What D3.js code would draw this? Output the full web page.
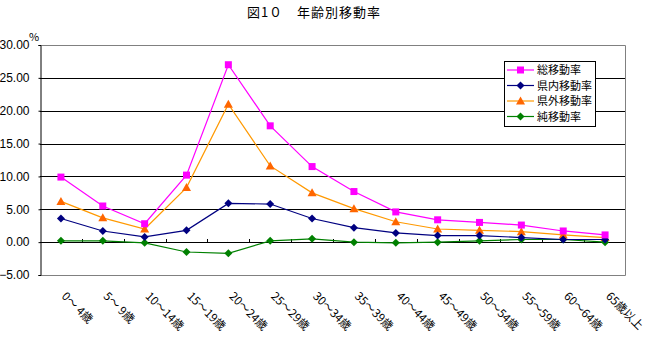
<!DOCTYPE html>
<html><head><meta charset="utf-8">
<script src="https://cdn.jsdelivr.net/npm/d3@7"></script>
<style>
body{margin:0;background:#fff;}
svg{display:block;}
text{font-family:"Noto Sans CJK JP","DejaVu Sans",sans-serif;fill:#000;}
</style></head>
<body>
<script>
const categories = ["0～ 4歳","5～ 9歳","10～14歳","15～19歳","20～24歳","25～29歳","30～34歳","35～39歳","40～44歳","45～49歳","50～54歳","55～59歳","60～64歳","65歳以上"];
const totalRate  = [9.9,5.5,2.8,10.2,27.0,17.7,11.5,7.7,4.6,3.4,3.0,2.6,1.7,1.1];
const intraRate  = [3.6,1.7,0.8,1.8,5.9,5.8,3.6,2.2,1.4,1.0,1.0,0.7,0.4,0.4];
const outerRate  = [6.2,3.7,2.0,8.3,21.0,11.6,7.5,5.1,3.1,2.0,1.8,1.6,1.1,0.7];
const netRate    = [0.2,0.2,-0.1,-1.5,-1.7,0.2,0.5,0.0,-0.1,0.0,0.2,0.4,0.4,0.0];
const yTicks     = [-5,0,5,10,15,20,25,30];
const seriesNames = ["総移動率","県内移動率","県外移動率","純移動率"];
const title = "図1０　年齢別移動率";

const W=649,H=344;
const m={l:40,r:23,t:45,b:69};
const svg=d3.select("body").append("svg").attr("width",W).attr("height",H);
const x=d3.scaleBand().domain(categories).range([m.l,W-m.r]);
const y=d3.scaleLinear().domain([-5,30]).range([H-m.b,m.t]);
const cx=d=>x(d)+x.bandwidth()/2;

// title
svg.append("text").attr("x",314).attr("y",17).attr("text-anchor","middle")
  .style("font-size","13px").style("letter-spacing","1px").text(title);

// gridlines
svg.append("g").selectAll("line").data(yTicks.filter(v=>v>-5&&v<30)).join("line")
  .attr("x1",m.l).attr("x2",W-m.r).attr("y1",d=>Math.round(y(d))+0.5).attr("y2",d=>Math.round(y(d))+0.5)
  .attr("stroke","#000").attr("stroke-width",1);
// plot border gray
svg.append("path").attr("d",`M${m.l},${y(30)+0.5}H${W-m.r-0.5}V${Math.round(y(-5))+0.5}H${m.l}`)
  .attr("fill","none").attr("stroke","#808080").attr("stroke-width",1);

// y axis
const ya=svg.append("g").attr("transform",`translate(${m.l+0.5},0)`)
  .call(d3.axisLeft(y).tickValues(yTicks).tickFormat(d3.format(".2f")).tickSize(2).tickPadding(9));
ya.select(".domain").attr("stroke","#000");
ya.selectAll("text").style("font-family","'Liberation Sans',sans-serif").style("font-size","12px");
svg.append("text").attr("x",29).attr("y",41).style("font-size","11px").text("%");

// category ticks on zero line
const bounds=categories.map(c=>x(c)).concat([W-m.r]).slice(1,-1);
svg.append("g").selectAll("line").data(bounds).join("line")
  .attr("x1",d=>Math.round(d)+0.5).attr("x2",d=>Math.round(d)+0.5)
  .attr("y1",Math.round(y(0))-3).attr("y2",Math.round(y(0)))
  .attr("stroke","#000");

// x labels
svg.append("g").selectAll("text").data(categories).join("text")
  .attr("transform",d=>`translate(${cx(d)+7},${290}) rotate(45)`)
  .attr("dy","0.85em").style("font-size","11.5px").text(d=>d);

// series
const series=[
  {name:seriesNames[0],vals:totalRate,line:"#FF00FF",mk:"#FF00FF",shape:"square"},
  {name:seriesNames[1],vals:intraRate,line:"#000080",mk:"#000080",shape:"diamond"},
  {name:seriesNames[2],vals:outerRate,line:"#FF9900",mk:"#FF6600",shape:"triangle"},
  {name:seriesNames[3],vals:netRate,line:"#008000",mk:"#008000",shape:"diamond"}
];
function marker(g,shape,col,px,py){
  if(shape==="square") g.append("rect").attr("x",px-3.5).attr("y",py-3.5).attr("width",7).attr("height",7).attr("fill",col);
  else if(shape==="diamond") g.append("path").attr("d",`M${px},${py-4}L${px+4},${py}L${px},${py+4}L${px-4},${py}Z`).attr("fill",col);
  else g.append("path").attr("d",`M${px},${py-4.5}L${px+4.5},${py+3.5}L${px-4.5},${py+3.5}Z`).attr("fill",col);
}
const line=d3.line().x((d,i)=>cx(categories[i])).y(d=>y(d));
[...series].reverse().forEach(s=>{
  const g=svg.append("g");
  g.append("path").attr("d",line(s.vals)).attr("fill","none").attr("stroke",s.line).attr("stroke-width",1.2);
  s.vals.forEach((v,i)=>marker(g,s.shape,s.mk,cx(categories[i]),y(v)));
});

// legend
const lg=svg.append("g");
lg.append("rect").attr("x",504.5).attr("y",61.5).attr("width",91).attr("height",65).attr("fill","#fff").attr("stroke","#000");
series.forEach((s,i)=>{
  const ly=70+i*15.5;
  lg.append("line").attr("x1",507).attr("x2",534).attr("y1",ly).attr("y2",ly).attr("stroke",s.line).attr("stroke-width",1.2);
  marker(lg,s.shape,s.mk,520.5,ly);
  lg.append("text").attr("x",537).attr("y",ly+4).style("font-size","11px").text(s.name);
});
</script>
</body></html>
